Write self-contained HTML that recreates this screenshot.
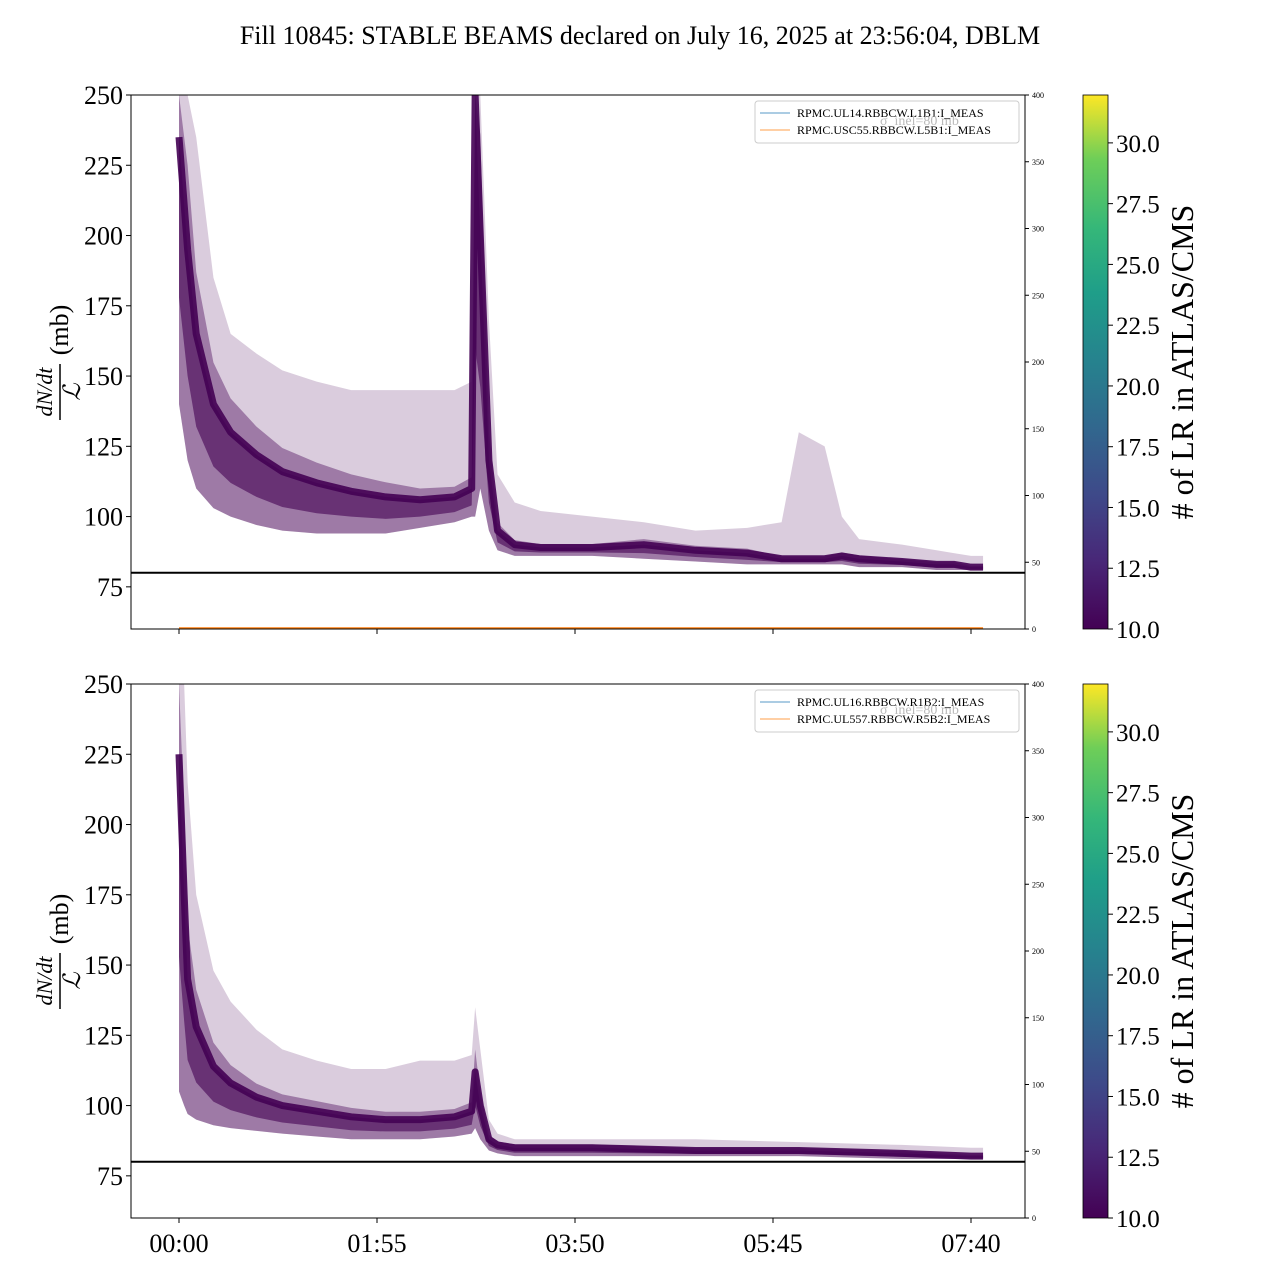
<!DOCTYPE html>
<html><head><meta charset="utf-8">
<style>
body{margin:0;background:#fff;}
svg{font-family:"Liberation Serif",serif;}
</style></head>
<body>
<svg id="chart" width="1280" height="1280" viewBox="0 0 1280 1280">
<defs>
<linearGradient id="vir" x1="0" y1="1" x2="0" y2="0">
<stop offset="0" stop-color="#440154"/><stop offset="0.13" stop-color="#482878"/>
<stop offset="0.25" stop-color="#3e4989"/><stop offset="0.38" stop-color="#31688e"/>
<stop offset="0.5" stop-color="#26828e"/><stop offset="0.63" stop-color="#1f9e89"/>
<stop offset="0.75" stop-color="#35b779"/><stop offset="0.88" stop-color="#6ece58"/>
<stop offset="1" stop-color="#fde725"/></linearGradient>
</defs>
<text x="640" y="44" font-size="26" text-anchor="middle">Fill 10845: STABLE BEAMS declared on July 16, 2025 at 23:56:04, DBLM</text>
</svg>
<script>
// ---- data ----
const xTickLabels = ["00:00","01:55","03:50","05:45","07:40"];
const xTickMinutes = [0,115,230,345,460];
const yTicks = [75,100,125,150,175,200,225,250];
const rightTicks = [0,50,100,150,200,250,300,350,400];
const cbTicks = [10,12.5,15,17.5,20,22.5,25,27.5,30];
const thresholdMb = 80;

const topTimes = [0,5,10,20,30,45,60,80,100,120,140,160,170,172,175,180,185,195,210,240,270,300,330,350,360,375,385,395,420,440,450,460,467];
const topLow   = [140,120,110,103,100,97,95,94,94,94,96,98,100,100,110,95,88,86,86,86,85,84,83,83,83,83,83,82,82,81,81,81,81];
const topCore  = [235,195,165,140,130,122,116,112,109,107,106,107,110,250,200,120,95,90,89,89,90,88,87,85,85,85,86,85,84,83,83,82,82];
const topHigh  = [250,250,235,185,165,158,152,148,145,145,145,145,148,250,250,170,115,105,102,100,98,95,96,98,130,125,100,92,90,88,87,86,86];

const botTimes = [0,3,5,10,20,30,45,60,80,100,120,140,160,170,172,175,180,185,195,240,300,360,420,460,467];
const botLow   = [105,100,97,95,93,92,91,90,89,88,88,88,89,90,92,88,84,83,82,82,82,82,81,81,81];
const botCore  = [225,175,145,128,114,108,103,100,98,96,95,95,96,98,112,100,88,86,85,85,84,84,83,82,82];
const botHigh  = [250,250,215,175,148,137,127,120,116,113,113,116,116,118,135,120,95,90,88,88,88,87,86,85,85];

const legendTop = ["RPMC.UL14.RBBCW.L1B1:I_MEAS","RPMC.USC55.RBBCW.L5B1:I_MEAS"];
const legendBot = ["RPMC.UL16.RBBCW.R1B2:I_MEAS","RPMC.UL557.RBBCW.R5B2:I_MEAS"];

// ---- drawing ----
const NS="http://www.w3.org/2000/svg";
const svg=document.getElementById('chart');
function mk(tag,attrs,parent){const e=document.createElementNS(NS,tag);for(const k in attrs)e.setAttribute(k,attrs[k]);(parent||svg).appendChild(e);return e;}
const X0=131,X1=1025;
function xs(t){return 179+t*198/115;}

function panel(top,times,low,core,high,legend,name,showOrange){
  const bot=top+534;
  function ys(v){return bot-(v-60)/(250-60)*(bot-top);}
  const g=mk('g',{});
  
  
  const clip=mk('clipPath',{id:'c'+name},g);
  mk('rect',{x:X0,y:top,width:X1-X0,height:bot-top},clip);
  const pg=mk('g',{'clip-path':'url(#c'+name+')'},g);
  function band(a,b,op,nm){
    let d='M'+times.map((t,i)=>xs(t)+','+ys(b[i])).join('L');
    for(let i=times.length-1;i>=0;i--)d+='L'+xs(times[i])+','+ys(a[i]);
    const p=mk('path',{d:d+'Z',fill:'#440154','fill-opacity':op},pg);
    
    
  }
  band(low,high,0.2,'trace-envelope');
  const midHi=core.map((c,i)=>Math.min(high[i],c+(c-low[i])*0.4));
  band(low,midHi,0.4,'trace-bulk');
  const midLo=core.map((c,i)=>c-(c-low[i])*0.6);
  band(midLo,core,0.6,'trace-core');
  const cl=mk('path',{d:'M'+times.map((t,i)=>xs(t)+','+ys(core[i])).join('L'),fill:'none',stroke:'#440154','stroke-width':7,'stroke-opacity':0.9,'stroke-linejoin':'round'},pg);
  
  
  const th=mk('line',{x1:X0,x2:X1,y1:ys(thresholdMb),y2:ys(thresholdMb),stroke:'#000','stroke-width':2},g);
  
  
  if(showOrange){
    const ol=mk('line',{x1:xs(0),x2:xs(467),y1:bot-1,y2:bot-1,stroke:'#ff7f0e','stroke-width':1.5},g);
    
    
  }
  mk('rect',{x:X0,y:top,width:X1-X0,height:bot-top,fill:'none',stroke:'#000','stroke-width':1},g);
  yTicks.forEach(v=>{
    mk('line',{x1:X0-5,x2:X0,y1:ys(v),y2:ys(v),stroke:'#000'},g);
    const t=mk('text',{x:X0-8,y:ys(v)+9,'font-size':26,'text-anchor':'end'},g);t.textContent=v;
    
    
  });
  rightTicks.forEach(v=>{
    const y=bot-v/400*(bot-top);
    mk('line',{x1:X1,x2:X1+4,y1:y,y2:y,stroke:'#000'},g);
    const t=mk('text',{x:X1+7,y:y+3,'font-size':8},g);t.textContent=v;
    
    
  });
  xTickMinutes.forEach(m=>{mk('line',{x1:xs(m),x2:xs(m),y1:bot,y2:bot+5,stroke:'#000'},g);});
  const yl=mk('g',{transform:'translate(60,'+((top+bot)/2)+') rotate(-90)'},g);
  
  
  let t=mk('text',{x:-30,y:-8,'font-size':22,'font-style':'italic','text-anchor':'middle'},yl);t.textContent='dN/dt';
  mk('line',{x1:-58,x2:-2,y1:0,y2:0,stroke:'#000','stroke-width':1.5},yl);
  t=mk('text',{x:-30,y:20,'font-size':24,'font-style':'italic','text-anchor':'middle'},yl);t.textContent='ℒ';
  t=mk('text',{x:32,y:8,'font-size':26,'text-anchor':'middle'},yl);t.textContent='(mb)';
  const lg=mk('g',{},g);
  
  
  mk('rect',{x:755,y:top+6,width:264,height:42,rx:3,fill:'#fff','fill-opacity':0.8,stroke:'#ccc'},lg);
  const cols=['#1f77b4','#ff7f0e'];
  legend.forEach((s,i)=>{
    const y=top+18+i*17;
    mk('line',{x1:760,x2:790,y1:y,y2:y,stroke:cols[i],'stroke-width':0.8},lg);
    const tt=mk('text',{x:797,y:y+4,'font-size':12},lg);tt.textContent=s;
    
    
  });
  const gh=mk('text',{x:880,y:top+30,'font-size':14,fill:'#bbb'},lg);gh.textContent='σ_inel=80 mb';
  const cb=mk('g',{},g);
  
  
  mk('rect',{x:1083,y:top,width:25,height:bot-top,fill:'url(#vir)',stroke:'#000','stroke-width':0.8},cb);
  cbTicks.forEach(v=>{
    const y=bot-(v-10)/(31.97-10)*(bot-top);
    mk('line',{x1:1108,x2:1113,y1:y,y2:y,stroke:'#000'},cb);
    const tt=mk('text',{x:1116,y:y+9,'font-size':25},cb);tt.textContent=v.toFixed(1);
    
    
  });
  const ct=mk('text',{transform:'translate(1193,'+((top+bot)/2)+') rotate(-90)','font-size':32,'text-anchor':'middle'},cb);
  ct.textContent='# of LR in ATLAS/CMS';
  
  
  return bot;
}
panel(95,topTimes,topLow,topCore,topHigh,legendTop,'top-panel',true);
const b=panel(684,botTimes,botLow,botCore,botHigh,legendBot,'bottom-panel',false);
xTickLabels.forEach((l,i)=>{
  const t=mk('text',{x:xs(xTickMinutes[i]),y:b+34,'font-size':26,'text-anchor':'middle'});
  t.textContent=l;
  
  
});
</script>
</body></html>
